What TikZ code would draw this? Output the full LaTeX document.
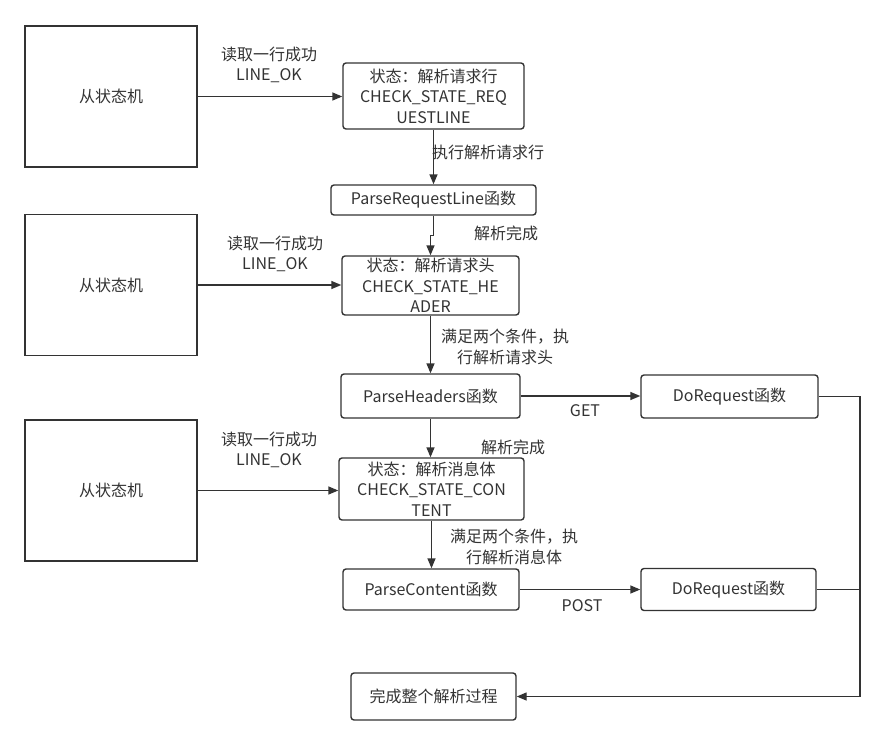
\documentclass[tikz,border=0pt]{standalone}
\usepackage{fontspec}
\setmainfont{Noto Sans CJK SC}
\usepackage{tikz}
\usetikzlibrary{arrows.meta}
\definecolor{ink}{HTML}{333333}
\tikzset{
    machine/.style={draw=ink, line width=1.4bp, minimum width=172bp, minimum height=141bp},
    state/.style={draw=ink, line width=1.4bp, rounded corners=3bp, align=center, inner sep=0pt},
    flow/.style={draw=ink, line width=1.4bp, -{Triangle[length=10bp, width=8bp]}},
    rail/.style={draw=ink, line width=1.4bp},
    note/.style={text=ink, align=center, inner sep=0pt}
}

\begin{document}
\begin{tikzpicture}[x=1bp, y=-1bp, font=\fontsize{16bp}{20.5bp}\selectfont, text=ink]
    \useasboundingbox (0,0) rectangle (887,745);
    \node[machine] (m1) at (111,96.5) {从状态机};
    \node[machine] (m2) at (111,285) {从状态机};
    \node[machine] (m3) at (111,490.5) {从状态机};
    \node[state, minimum width=181bp, minimum height=66bp] (s1) at (433.5,96) {状态：解析请求行\\CHECK\_STATE\_REQ\\UESTLINE};
    \node[state, minimum width=205bp, minimum height=30bp] (prl) at (433.5,200) {ParseRequestLine函数};
    \node[state, minimum width=177bp, minimum height=59bp] (s2) at (430.5,285.5) {状态：解析请求头\\CHECK\_STATE\_HE\\ADER};
    \node[state, minimum width=179bp, minimum height=44bp] (ph) at (430.5,396) {ParseHeaders函数};
    \node[state, minimum width=185bp, minimum height=62bp] (s3) at (431.5,489) {状态：解析消息体\\CHECK\_STATE\_CON\\TENT};
    \node[state, minimum width=176bp, minimum height=41bp] (pc) at (431,589.5) {ParseContent函数};
    \node[state, minimum width=177bp, minimum height=43bp] (dr1) at (729.5,396.5) {DoRequest函数};
    \node[state, minimum width=175bp, minimum height=42bp] (dr2) at (728.5,589.5) {DoRequest函数};
    \node[state, minimum width=165bp, minimum height=47bp] (done) at (433.5,696.5) {完成整个解析过程};
    \coordinate (rail) at (860,0);
    % labels
    \node[note] (r1) at (269,65) {读取一行成功\\LINE\_OK};
    \node[note] (r2) at (275,254) {读取一行成功\\LINE\_OK};
    \node[note] (r3) at (269,450) {读取一行成功\\LINE\_OK};
    \node[note] (t1) at (488,152) {执行解析请求行};
    \node[note] (t2) at (506,233) {解析完成};
    \node[note] (t3) at (505,347) {满足两个条件，执\\行解析请求头};
    \node[note] (t4) at (513,447) {解析完成};
    \node[note] (t5) at (514,547) {满足两个条件，执\\行解析消息体};
    \node[note] (get) at (585,411) {GET};
    \node[note] (post) at (582,606) {POST};
    \draw[flow] (m1.east) -- (s1.west |- m1.east);
    \draw[flow] (m2.east) -- (s2.west |- m2.east);
    \draw[flow] (m3.east) -- (s3.west |- m3.east);
    \draw[flow] (s1.south) -- (s1.south |- prl.north);
    \draw[flow] (prl.south) -- ++(0,20) -| (s2.north);
    \draw[flow] (s2.south) -- (s2.south |- ph.north);
    \draw[flow] (ph.south) -- (ph.south |- s3.north);
    \draw[flow] (s3.south) -- (s3.south |- pc.north);
    \draw[flow] (ph.east) -- (dr1.west |- ph.east);
    \draw[flow] (pc.east) -- (dr2.west |- pc.east);
    \draw[flow] (dr1.east) -- (dr1.east -| rail) -- (done.east -| rail) -- (done.east);
    \draw[rail] (dr2.east) -- (dr2.east -| rail);
\end{tikzpicture}
\end{document}
